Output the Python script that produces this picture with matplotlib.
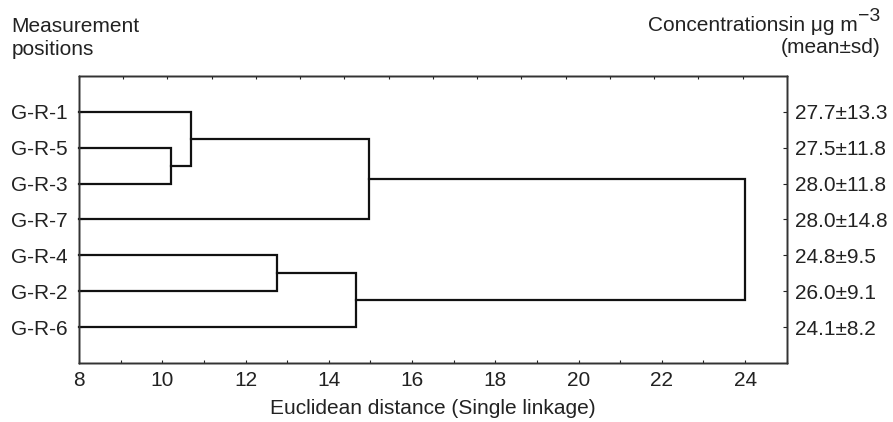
import numpy as np
import matplotlib
matplotlib.use("Agg")
import matplotlib.pyplot as plt

plt.rcParams['font.family'] = ['Liberation Sans', 'DejaVu Sans']

# leaves, top to bottom
positions = ['G-R-1', 'G-R-5', 'G-R-3', 'G-R-7', 'G-R-4', 'G-R-2', 'G-R-6']
concentrations = ['27.7±13.3', '27.5±11.8', '28.0±11.8', '28.0±14.8',
                  '24.8±9.5', '26.0±9.1', '24.1±8.2']

# linkage steps: (left member, right member, distance)
# members are leaf indices, or 'cN' for cluster N created earlier
merges = [
    (1, 2, 10.2),        # c0: G-R-5 + G-R-3
    (0, 'c0', 10.68),    # c1: G-R-1 + c0
    (4, 5, 12.75),       # c2: G-R-4 + G-R-2
    ('c2', 6, 14.65),    # c3: c2 + G-R-6
    ('c1', 3, 14.97),    # c4: c1 + G-R-7
    ('c4', 'c3', 24.0),  # c5: all
]

xmin = 8
xmin_plot, xmax_plot = 8, 25
txt = '#222222'

fig, ax = plt.subplots(figsize=(8.93, 4.22), dpi=100)
fig.subplots_adjust(left=0.0885, right=0.881, top=0.82, bottom=0.14)

leaf_y = {i: i + 1 for i in range(len(positions))}
nodes = {}


def node_pos(m):
    if isinstance(m, str):
        return nodes[m]
    return (xmin, leaf_y[m])


for k, (a, b, d) in enumerate(merges):
    xa, ya = node_pos(a)
    xb, yb = node_pos(b)
    ax.plot([xa, d, d, xb], [ya, ya, yb, yb], color='#111111', lw=1.6,
            solid_joinstyle='miter', clip_on=False)
    nodes['c%d' % k] = (d, (ya + yb) / 2)

ax.set_xlim(xmin_plot, xmax_plot)
ax.set_ylim(len(positions) + 1, 0)

ax.set_xticks(np.arange(8, 25, 2))
ax.set_xticks(np.arange(8, 26, 1), minor=True)
ax.tick_params(axis='x', which='both', direction='in', length=2, width=0.8,
               labelsize=15, pad=6, colors=txt, labelcolor=txt)

ax.set_yticks([leaf_y[i] for i in range(len(positions))])
ax.set_yticklabels(positions)
ax.tick_params(axis='y', which='both', left=False, right=True,
               labelleft=True, labelright=False, direction='in', length=2,
               labelsize=15, pad=8, colors=txt, labelcolor=txt)

ax2 = ax.twinx()
ax2.set_ylim(ax.get_ylim())
ax2.set_yticks([leaf_y[i] for i in range(len(concentrations))])
ax2.set_yticklabels(concentrations)
ax2.tick_params(axis='y', direction='in', length=3, width=0.8, labelsize=15,
                pad=6, colors=txt, labelcolor=txt)

# top axis has its own tick spacing
ax3 = ax.twiny()
ax3.set_xlim(0, 16)
ax3.set_xticks(np.arange(0, 17, 1))
ax3.tick_params(axis='x', direction='in', length=2, width=0.8,
                labeltop=False, colors=txt)

for a in (ax, ax2, ax3):
    for s in a.spines.values():
        s.set_linewidth(1.0)
        s.set_color('#333333')

ax.set_xlabel('Euclidean distance (Single linkage)', fontsize=15,
              color=txt, labelpad=6)

# header texts
fig.text(0.013, 1 - 32 / 422, 'Measurement', fontsize=15, va='baseline',
         ha='left', color=txt)
fig.text(0.013, 1 - 55 / 422, 'positions', fontsize=15, va='baseline',
         ha='left', color=txt)
fig.text(858 / 893, 1 - 31 / 422, 'Concentrationsin μg m', fontsize=15,
         va='baseline', ha='right', color=txt)
fig.text(858 / 893, 1 - 21 / 422, '−3', fontsize=14, va='baseline',
         ha='left', color=txt)
fig.text(0.986, 1 - 53 / 422, '(mean±sd)', fontsize=15, va='baseline',
         ha='right', color=txt)

fig.savefig('out.png', dpi=100)
